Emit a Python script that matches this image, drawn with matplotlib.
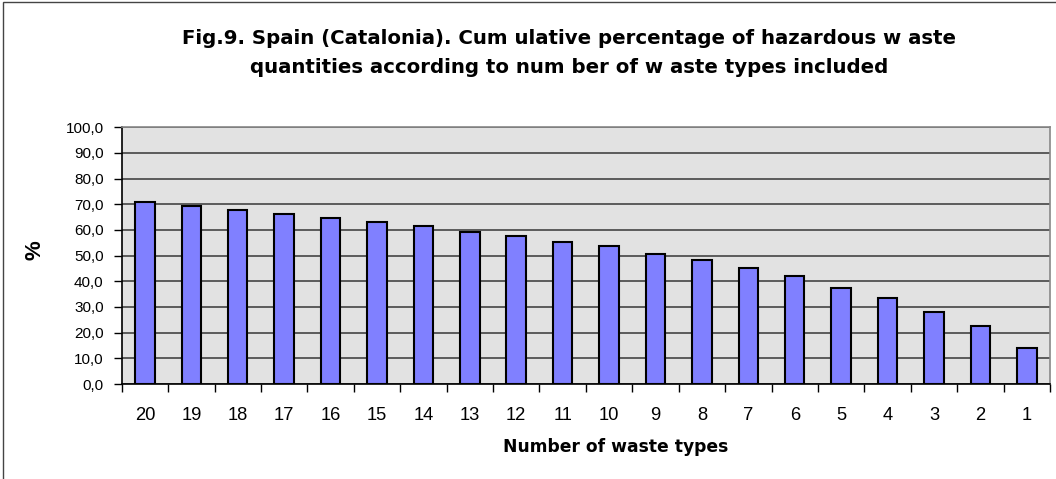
import matplotlib
matplotlib.use("Agg")
import matplotlib.pyplot as plt
from matplotlib.patches import Rectangle

categories = ["20", "19", "18", "17", "16", "15", "14", "13", "12", "11",
              "10", "9", "8", "7", "6", "5", "4", "3", "2", "1"]
values = [71.0, 69.3, 67.9, 66.2, 64.8, 63.2, 61.5, 59.2, 57.7, 55.3,
          53.8, 50.6, 48.3, 45.2, 42.1, 37.5, 33.6, 28.0, 22.6, 14.0]
yticks = [0, 10, 20, 30, 40, 50, 60, 70, 80, 90, 100]
ytick_labels = ["0,0", "10,0", "20,0", "30,0", "40,0", "50,0", "60,0",
                "70,0", "80,0", "90,0", "100,0"]

plt.rcParams['font.family'] = ['Liberation Sans', 'DejaVu Sans']

W, H = 1056, 479
fig = plt.figure(figsize=(W / 100, H / 100), dpi=100)
fig.patch.set_facecolor("white")

# outer chart border (only top and left edges are visible in the frame)
fig.patches.append(Rectangle((3 / W, -0.1), 1.2, 1.1 - 2 / H,
                             transform=fig.transFigure, fill=False,
                             edgecolor="#444444", lw=1.0))

left, right, top, bottom = 121.7, 1050, 127.3, 384
ax = fig.add_axes([left / W, 1 - bottom / H, (right - left) / W, (bottom - top) / H])
ax.set_facecolor("#E2E2E2")

x = list(range(len(categories)))
ax.bar(x, values, width=0.42, color="#8080FF", edgecolor="black", linewidth=1.5, zorder=3)

ax.set_xlim(-0.5, len(categories) - 0.5)
ax.set_ylim(0, 100)
ax.set_yticks(yticks)
ax.set_yticklabels(ytick_labels, fontsize=11)
ax.yaxis.grid(True, color="#444444", linewidth=1.2, zorder=1)
ax.set_axisbelow(True)

ax.set_xticks(x)
ax.set_xticklabels(categories, fontsize=13.2)
ax.tick_params(axis="x", length=0, pad=16.5)
ax.set_xticks([i - 0.5 for i in range(len(categories) + 1)], minor=True)
ax.tick_params(axis="x", which="minor", length=6, width=1, color="black", direction="out")
ax.tick_params(axis="y", length=6, width=1, direction="out", pad=7)

for s in ["left", "bottom"]:
    ax.spines[s].set_color("black")
    ax.spines[s].set_linewidth(1.2)
for s in ["top", "right"]:
    ax.spines[s].set_color("#888888")
    ax.spines[s].set_linewidth(1.2)

fig.text(35 / W, 1 - 250 / H, "%", rotation=90, ha="center", va="center",
         fontsize=16, fontweight="bold")

title_font = ['DejaVu Sans']
fig.text(569.5 / W, 1 - 43.7 / H,
         "Fig.9. Spain (Catalonia). Cum ulative percentage of hazardous w aste",
         ha="center", va="baseline", fontsize=14.2, fontweight="bold", family=title_font)
fig.text(569.5 / W, 1 - 72.7 / H,
         "quantities according to num ber of w aste types included",
         ha="center", va="baseline", fontsize=14.2, fontweight="bold", family=title_font)
fig.text(616 / W, 1 - 452.3 / H, "Number of waste types",
         ha="center", va="baseline", fontsize=12.3, fontweight="bold", family=title_font)

fig.savefig("out.png", dpi=100)
